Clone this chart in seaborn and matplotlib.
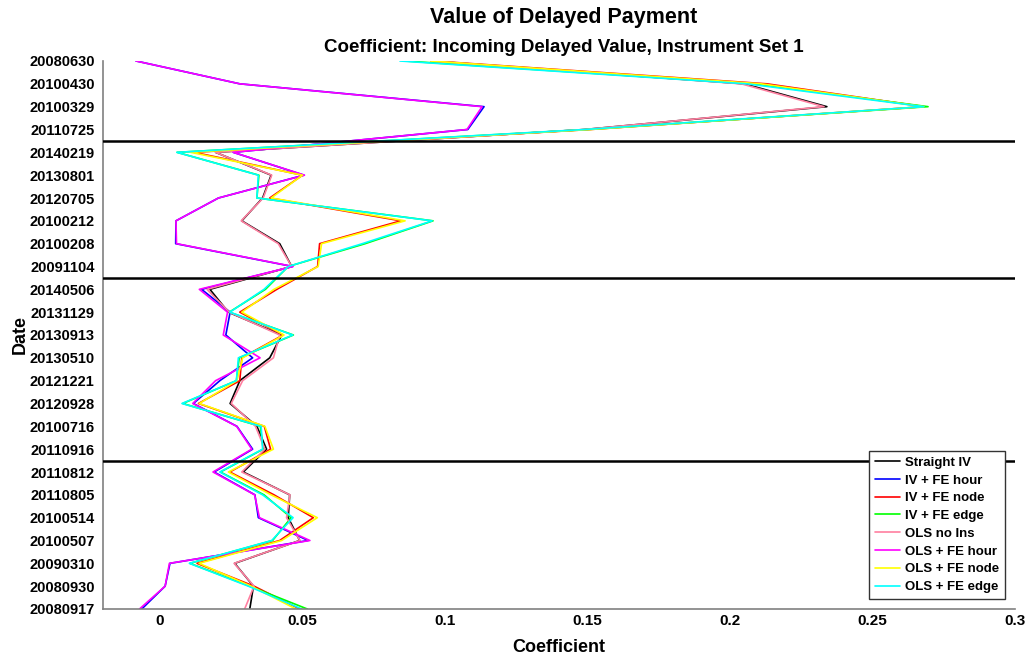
import numpy as np
import pandas as pd
import matplotlib
matplotlib.use("Agg")
import matplotlib.pyplot as plt
import seaborn as sns

# Date labels, top to bottom
dates = [
    "20080630", "20100430", "20100329", "20110725",
    "20140219", "20130801", "20120705", "20100212", "20100208", "20091104",
    "20140506", "20131129", "20130913", "20130510", "20121221", "20120928",
    "20100716", "20110916",
    "20110812", "20110805", "20100514", "20100507", "20090310", "20080930",
    "20080917",
]

straight_iv = [0.095, 0.205, 0.234, 0.149,
               0.0195, 0.039, 0.036, 0.0287, 0.042, 0.0462,
               0.0175, 0.024, 0.0427, 0.0385, 0.028, 0.0246, 0.034, 0.0374,
               0.0292, 0.0455, 0.045, 0.049, 0.0262, 0.0328, 0.0315]
iv_fe_hour = [-0.0084, 0.028, 0.1137, 0.108,
              0.0257, 0.0505, 0.0205, 0.0056, 0.0055, 0.0465,
              0.0146, 0.0246, 0.0231, 0.0325, 0.021, 0.0117, 0.027, 0.0325,
              0.019, 0.0333, 0.0345, 0.052, 0.0035, 0.0018, -0.0064]
iv_fe_node = [0.096, 0.213, 0.268, 0.151,
              0.012, 0.050, 0.0385, 0.0845, 0.056, 0.0553,
              0.041, 0.028, 0.0432, 0.0287, 0.028, 0.0135, 0.0366, 0.0388,
              0.0245, 0.040, 0.0538, 0.042, 0.013, 0.033, 0.049]
iv_fe_edge = [0.086, 0.208, 0.2695, 0.150,
              0.006, 0.0347, 0.034, 0.0958, 0.072, 0.045,
              0.037, 0.0243, 0.0468, 0.0278, 0.0268, 0.008, 0.0352, 0.0362,
              0.0212, 0.0365, 0.046, 0.0395, 0.0105, 0.0315, 0.0517]
ols_no_ins = [0.095, 0.204, 0.233, 0.149,
              0.0195, 0.0392, 0.0362, 0.0285, 0.0415, 0.0462,
              0.0165, 0.0243, 0.042, 0.0398, 0.029, 0.025, 0.0335, 0.0368,
              0.0287, 0.0456, 0.0444, 0.0491, 0.026, 0.033, 0.0297]
ols_fe_hour = [-0.0084, 0.028, 0.113, 0.1077,
               0.0257, 0.0507, 0.0205, 0.0056, 0.0058, 0.0467,
               0.0138, 0.0237, 0.0222, 0.0351, 0.0195, 0.0115, 0.0269, 0.0322,
               0.0186, 0.0332, 0.0349, 0.0526, 0.0033, 0.0018, -0.0072]
ols_fe_node = [0.095, 0.211, 0.268, 0.151,
               0.0108, 0.050, 0.039, 0.086, 0.0567, 0.0555,
               0.040, 0.0287, 0.0435, 0.029, 0.027, 0.0138, 0.0368, 0.0398,
               0.024, 0.039, 0.0552, 0.0427, 0.0137, 0.032, 0.0477]
ols_fe_edge = [0.0842, 0.206, 0.268, 0.149,
               0.0059, 0.0345, 0.034, 0.0955, 0.071, 0.045,
               0.0365, 0.0245, 0.0466, 0.0275, 0.0268, 0.0077, 0.0355, 0.036,
               0.021, 0.036, 0.0467, 0.0392, 0.0103, 0.031, 0.0497]

series_names = ["Straight IV", "IV + FE hour", "IV + FE node", "IV + FE edge",
                "OLS no Ins", "OLS + FE hour", "OLS + FE node", "OLS + FE edge"]
series_values = [straight_iv, iv_fe_hour, iv_fe_node, iv_fe_edge,
                 ols_no_ins, ols_fe_hour, ols_fe_node, ols_fe_edge]
series_colors = ["#000000", "#0000ff", "#ff0000", "#00ff00",
                 "#ff7fa0", "#ff00ff", "#ffff00", "#00ffff"]

# Group boundaries (after these row counts)
group_sizes = [4, 6, 8, 7]

sns.set_style("white")
plt.rcParams["font.family"] = ["Liberation Sans", "DejaVu Sans"]
plt.rcParams["font.weight"] = "bold"
plt.rcParams["text.color"] = "black"
plt.rcParams["axes.labelcolor"] = "black"
plt.rcParams["xtick.color"] = "black"
plt.rcParams["ytick.color"] = "black"

fig = plt.figure(figsize=(10.29, 6.58), dpi=100)
ax = fig.add_axes([103 / 1029, 1 - 609 / 658, (1015 - 103) / 1029, (609 - 61) / 658])

pos = np.arange(len(dates))
for name, vals, col in zip(series_names, series_values, series_colors):
    df = pd.DataFrame({"Coefficient": vals, "pos": pos})
    sns.lineplot(data=df, x="Coefficient", y="pos", orient="y", sort=True,
                 estimator=None, color=col, linewidth=1.2, label=name,
                 legend=False, ax=ax)

# Separators between date groups
edges = np.cumsum(group_sizes)[:-1] - 0.5
for e in edges:
    ax.axhline(e, color="black", linewidth=1.8, zorder=5)

ax.set_ylim(len(dates) - 1, 0)
ax.set_xlim(-0.02, 0.3)
ax.set_yticks(pos)
ax.set_yticklabels(dates, fontsize=10.5, fontweight="bold", color="black")
ax.set_xticks(np.arange(0, 0.301, 0.05))
ax.set_xticklabels(["0", "0.05", "0.1", "0.15", "0.2", "0.25", "0.3"],
                   fontsize=11, fontweight="bold", color="black")
ax.tick_params(axis="both", direction="in", length=5, color="#808080", width=1,
               labelcolor="black")
ax.tick_params(axis="y", pad=6)

for side in ["top", "right"]:
    ax.spines[side].set_visible(False)
for side in ["left", "bottom"]:
    ax.spines[side].set_color("#808080")
    ax.spines[side].set_linewidth(1.2)

ax.set_xlabel("Coefficient", fontsize=13, fontweight="bold", labelpad=8, color="black")
ax.set_ylabel("Date", fontsize=13, fontweight="bold", labelpad=0, color="black")

fig.text(0.548, 1 - 18 / 658, "Value of Delayed Payment", ha="center", va="center",
         fontsize=15.5, fontweight="bold", color="black")
fig.text(0.548, 1 - 47 / 658, "Coefficient: Incoming Delayed Value, Instrument Set 1",
         ha="center", va="center", fontsize=13.5, fontweight="bold", color="black")

leg = ax.legend(loc="lower right", bbox_to_anchor=(0.989, 0.018), borderaxespad=0,
                fontsize=9.5, frameon=True, fancybox=False, handlelength=1.9,
                labelspacing=0.42, borderpad=0.45, handletextpad=0.4)
leg.get_frame().set_edgecolor("#333333")
leg.get_frame().set_linewidth(1.0)
leg.get_frame().set_alpha(1)
leg.set_zorder(10)
for t in leg.get_texts():
    t.set_fontweight("bold")
    t.set_color("black")

fig.savefig("out.png", dpi=100, facecolor="white")
